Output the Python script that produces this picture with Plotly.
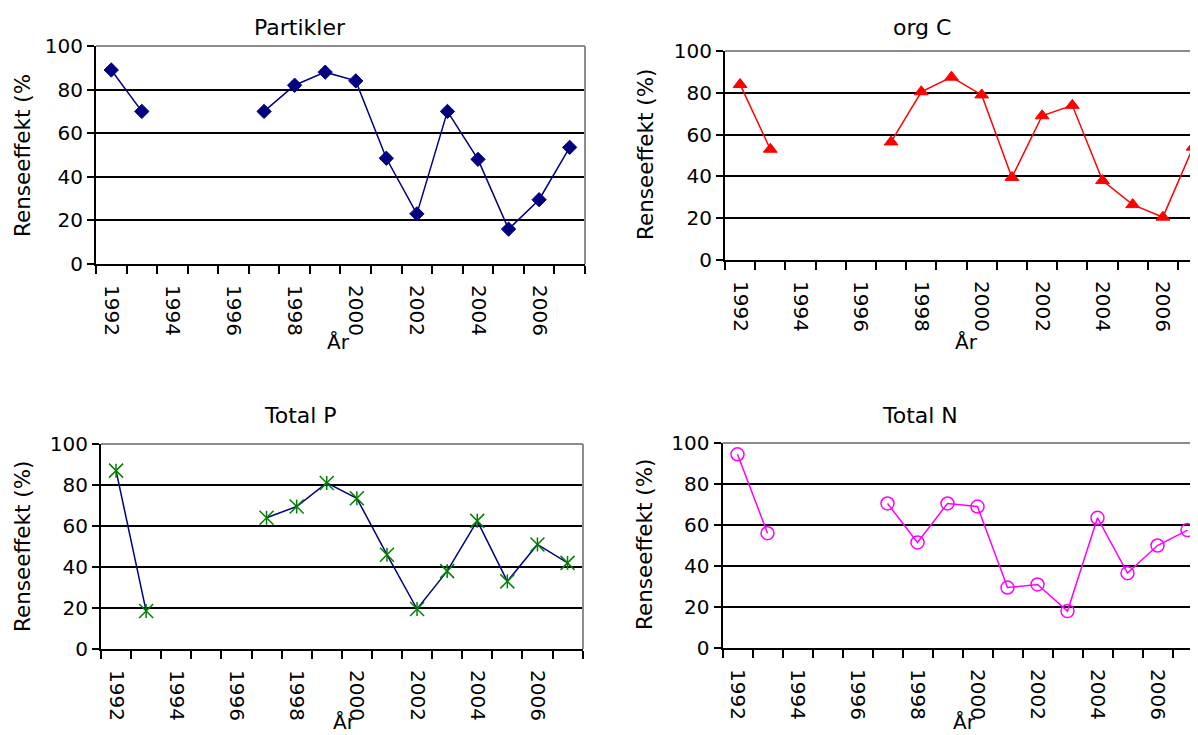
import plotly.graph_objects as go

# ---------------- data ----------------
years = list(range(1992, 2008))
partikler = [89, 70, None, None, None, 70, 82, 88, 84, 48.5, 23, 70, 48, 16, 29.5, 53.5]
org_c = [84, 53, None, None, None, 56.5, 80.5, 87.5, 79, 39.5, 69, 74, 38, 26.5, 20.5, 54]
total_p = [87, 18.5, None, None, None, 64, 69.5, 81, 73.5, 46, 19.5, 38, 62.5, 33, 51, 42]
total_n = [94.5, 56, None, None, None, 70.5, 51.5, 70.5, 69, 29.5, 31, 18, 63.5, 36.5, 50, 57.5]

tick_years = [1992, 1994, 1996, 1998, 2000, 2002, 2004, 2006]
tick_text = [str(y) for y in tick_years]
y_ticks = [0, 20, 40, 60, 80, 100]

titles = ["Partikler", "org C", "Total P", "Total N"]
ytitles = ["Renseeffekt (%", "Renseeffekt (%)", "Renseeffekt (%)", "Renseeffekt (%)"]
xtitle = "År"

W, H = 1198, 735
FONT = "DejaVu Sans"
OFF = 8  # page body margin offset

def fx(px):
    return (px - OFF) / W

def fy(py):
    return 1 - (py - OFF) / H

# panel pixel boxes (screen px): (x0, x1, ytop, ybottom, category spacing)
panels = [
    (96, 585, 46, 264, 30.56),
    (725, 1206, 51, 260, 30.2),
    (101, 583, 444, 649, 30.1),
    (722.5, 1206, 443, 648, 30.0),
]

fig = go.Figure()

axis_names = [("x", "y"), ("x2", "y2"), ("x3", "y3"), ("x4", "y4")]

def add_line(idx, vals, color, width=1.5):
    xa, ya = axis_names[idx]
    fig.add_trace(go.Scatter(x=years, y=vals, mode="lines", line=dict(color=color, width=width),
                             connectgaps=False, xaxis=xa, yaxis=ya, showlegend=False,
                             hoverinfo="skip"))

def add_markers(idx, vals, symbol, size, color, fill, lw=1.5):
    xa, ya = axis_names[idx]
    fig.add_trace(go.Scatter(x=years, y=vals, mode="markers",
                             marker=dict(symbol=symbol, size=size, color=fill,
                                         line=dict(color=color, width=lw)),
                             xaxis=xa, yaxis=ya, showlegend=False, cliponaxis=False))

# Partikler
add_line(0, partikler, "#000080")
add_markers(0, partikler, "diamond", 11, "#000080", "#000080", 1)
# org C
add_line(1, org_c, "#FF0000")
add_markers(1, org_c, "triangle-up", 12, "#FF0000", "#FF0000", 1)
# Total P
add_line(2, total_p, "#000080")
add_markers(2, total_p, "x-thin-open", 14, "#008000", "#008000", 1.5)
add_markers(2, total_p, "line-ns-open", 10, "#008000", "#008000", 1.5)
# Total N
add_line(3, total_n, "#FF00FF")
add_markers(3, total_n, "circle-open", 13, "#FF00FF", "#FF00FF", 1.5)

layout = dict(width=W, height=H, autosize=False,
              margin=dict(l=0, r=0, t=0, b=0, pad=0, autoexpand=False),
              paper_bgcolor="white", plot_bgcolor="white", showlegend=False,
              font=dict(family=FONT, color="black"))

annotations = []
shapes = []
boundaries = [y - 0.5 for y in years] + [years[-1] + 0.5]

for i, (x0, x1, yt, yb, sp) in enumerate(panels):
    suffix = "" if i == 0 else str(i + 1)
    xr_hi = years[0] - 0.5 + (x1 - x0) / sp
    layout["xaxis" + suffix] = dict(
        domain=[fx(x0), min(1.0, fx(x1))], anchor="y" + suffix, automargin=False,
        range=[years[0] - 0.5, xr_hi], tickmode="array", tickvals=tick_years, ticktext=tick_text,
        tickangle=90, ticks="", ticklabelstandoff=15, showgrid=False, zeroline=False,
        showline=True, linecolor="black", linewidth=2,
        tickfont=dict(family=FONT, size=20, color="black"),
        minor=dict(tickmode="array", tickvals=boundaries, ticks="outside", ticklen=8,
                   tickwidth=1.5, tickcolor="black", showgrid=False),
    )
    layout["yaxis" + suffix] = dict(
        domain=[fy(yb), fy(yt)], anchor="x" + suffix, range=[0, 100], automargin=False,
        tickmode="array", tickvals=y_ticks, ticks="outside", ticklen=7, tickwidth=1.5,
        tickcolor="black", showgrid=True, gridcolor="black", gridwidth=1.5, zeroline=False,
        showline=True, linecolor="black", linewidth=2,
        tickfont=dict(family=FONT, size=20, color="black"),
    )
    # gray plot border (top and right)
    shapes.append(dict(type="line", xref=f"x{suffix} domain", yref=f"y{suffix} domain",
                       x0=0, x1=1, y0=1, y1=1, line=dict(color="#8c8c8c", width=2), layer="above"))
    shapes.append(dict(type="line", xref=f"x{suffix} domain", yref=f"y{suffix} domain",
                       x0=1, x1=1, y0=0, y1=1, line=dict(color="#8c8c8c", width=2), layer="above"))

title_pos = [(300, 27), (922, 27), (300, 415), (920, 415)]
ytitle_pos = [(22, 156), (646, 155), (22, 547), (644, 545)]
xtitle_pos = [(338, 342), (966, 342), (344, 722), (964, 722)]

for i in range(4):
    tx, ty = title_pos[i]
    annotations.append(dict(text=titles[i], x=fx(tx), y=fy(ty), xref="paper", yref="paper",
                            xanchor="center", yanchor="middle", showarrow=False,
                            font=dict(family=FONT, size=22, color="black")))
    ax_, ay_ = ytitle_pos[i]
    annotations.append(dict(text=ytitles[i], x=fx(ax_), y=fy(ay_), xref="paper", yref="paper",
                            xanchor="center", yanchor="middle", showarrow=False, textangle=-90,
                            font=dict(family=FONT, size=21.5, color="black")))
    bx, by = xtitle_pos[i]
    annotations.append(dict(text=xtitle, x=fx(bx), y=fy(by), xref="paper", yref="paper",
                            xanchor="center", yanchor="middle", showarrow=False,
                            font=dict(family=FONT, size=20, color="black")))

layout["annotations"] = annotations
layout["shapes"] = shapes
fig.update_layout(**layout)

fig.write_html("out.html")
